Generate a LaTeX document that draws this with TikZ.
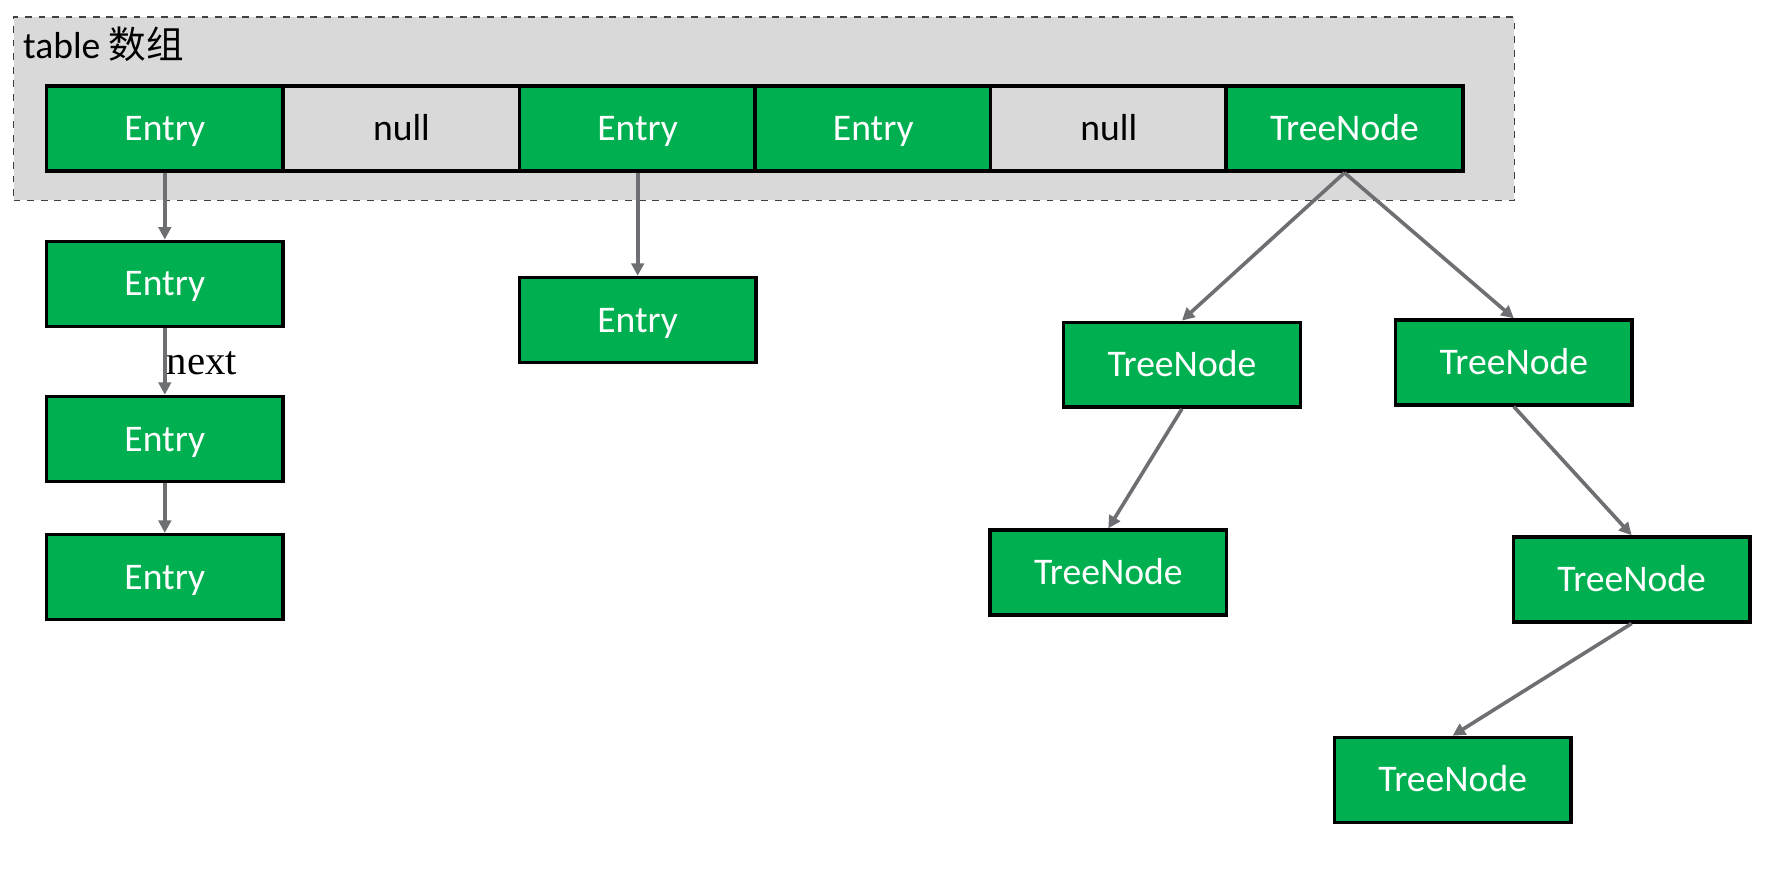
\documentclass[tikz,border=0pt]{standalone}
\usepackage{fontspec}
\setmainfont{Carlito}
\newfontfamily\cjk{Noto Sans CJK SC}
\newfontfamily\nextfont{Liberation Serif}
\usetikzlibrary{arrows.meta}
\definecolor{boxgreen}{HTML}{00B050}
\definecolor{boxgray}{HTML}{D9D9D9}
\definecolor{arrowgray}{HTML}{6E6F73}
\definecolor{framegray}{HTML}{404040}
\tikzset{
  cellbase/.style={draw=black, line width=1.5pt, minimum width=104.5pt, minimum height=37.5pt, inner sep=0pt, text height=10.7pt, text depth=0pt, font=\fontsize{16.6}{19}\selectfont},
  greencell/.style={cellbase, fill=boxgreen, text=white},
  nullcell/.style={cellbase, fill=boxgray, text=black},
  link/.style={draw=arrowgray, line width=1.6pt, -{Triangle[length=5.5pt,width=5.5pt]}},
}
\begin{document}
\begin{tikzpicture}[x=0.5pt,y=-0.5pt]
\useasboundingbox (0,0) rectangle (1568,777);
% table frame
\node[draw=framegray, dashed, line width=0.6pt, fill=boxgray, minimum width=662.5pt, minimum height=81pt, inner sep=0pt] (frame) at (674.5,96) {};
\node[anchor=base west, inner sep=0pt, font=\fontsize{16.6}{19}\selectfont] (title) at (20,52) {table {\cjk 数组}};
% top row
\node[greencell] (c1) at (145.5,113.5) {Entry};
\node[nullcell]  (c2) at (354.5,113.5) {null};
\node[greencell] (c3) at (563,113.5) {Entry};
\node[greencell] (c4) at (771,113.5) {Entry};
\node[nullcell]  (c5) at (979,113.5) {null};
\node[greencell] (c6) at (1187,113.5) {TreeNode};
% chain
\node[greencell] (e2) at (145.5,250.5) {Entry};
\node[greencell] (e3) at (145.5,387.5) {Entry};
\node[greencell] (e4) at (145.5,509.5) {Entry};
\node[greencell] (e5) at (563,282.5) {Entry};
% tree
\node[greencell] (t1) at (1043.5,322) {TreeNode};
\node[greencell] (t2) at (1336.5,320) {TreeNode};
\node[greencell] (t3) at (978.5,505.5) {TreeNode};
\node[greencell] (t4) at (1440.5,511.5) {TreeNode};
\node[greencell] (t5) at (1282.5,688.5) {TreeNode};
% links
\draw[link] (c1.south) -- (e2.north);
\draw[link] (e2.south) -- (e3.north);
\draw[link] (e3.south) -- (e4.north);
\draw[link] (c3.south) -- (e5.north);
\draw[link] (c6.south) -- (t1.north);
\draw[link] (c6.south) -- (t2.north);
\draw[link] (t1.south) -- (t3.north);
\draw[link] (t2.south) -- (t4.north);
\draw[link] (t4.south) -- (t5.north);
\node[anchor=base west, inner sep=0pt, font=\nextfont\fontsize{18}{20}\selectfont] (nextlabel) at (147,331) {next};
\end{tikzpicture}
\end{document}
